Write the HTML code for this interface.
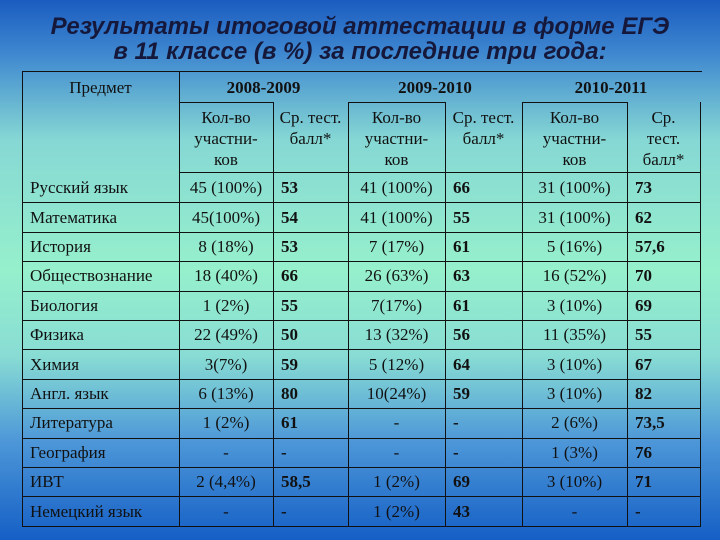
<!DOCTYPE html>
<html><head><meta charset="utf-8">
<style>
body{margin:0;width:720px;height:540px;overflow:hidden;font-family:"Liberation Serif","Noto Serif CJK SC",serif;}
#bg{position:absolute;left:0;top:0;width:720px;height:540px;background:linear-gradient(to bottom,#1a5cc0 0%,#3f88d0 10%,#86d8d4 26%,#96f0cc 50%,#88dcd4 66%,#4c96d8 82%,#155fc6 100%);}
.t{position:absolute;left:0;width:720px;text-align:center;font-family:"Liberation Sans",sans-serif;font-weight:bold;font-style:italic;font-size:24px;line-height:28px;color:#15183a;}
.l{position:absolute;background:#111;}
.c{position:absolute;font-size:17px;color:#111;white-space:nowrap;line-height:21px;}
</style></head><body>
<div id="bg"></div>
<div class="t" style="top:13px">Результаты итоговой аттестации в форме ЕГЭ</div>
<div class="t" style="top:38px">в 11 классе (в %) за последние три года:</div>
<div id="tbl"></div>
<script>
const subjects=["Русский язык","Математика","История","Обществознание","Биология","Физика","Химия","Англ. язык","Литература","География","ИВТ","Немецкий язык"];
const count0809=["45 (100%)","45(100%)","8 (18%)","18 (40%)","1 (2%)","22 (49%)","3(7%)","6 (13%)","1 (2%)","-","2 (4,4%)","-"];
const score0809=["53","54","53","66","55","50","59","80","61","-","58,5","-"];
const count0910=["41 (100%)","41 (100%)","7 (17%)","26 (63%)","7(17%)","13 (32%)","5 (12%)","10(24%)","-","-","1 (2%)","1 (2%)"];
const score0910=["66","55","61","63","61","56","64","59","-","-","69","43"];
const count1011=["31 (100%)","31 (100%)","5 (16%)","16 (52%)","3 (10%)","11 (35%)","3 (10%)","3 (10%)","2 (6%)","1 (3%)","3 (10%)","-"];
const score1011=["73","62","57,6","70","69","55","67","82","73,5","76","71","-"];
const tbl=document.getElementById('tbl');
function line(x,y,w,h,n){const d=document.createElement('div');d.className='l';


d.style.cssText=`left:${x}px;top:${y}px;width:${w}px;height:${h}px`;tbl.appendChild(d);}
function cell(txt,x,w,y,align,bold,n){const d=document.createElement('div');d.className='c';


d.innerHTML=txt;d.style.left=x+'px';d.style.width=w+'px';d.style.top=y+'px';d.style.textAlign=align;if(bold)d.style.fontWeight='bold';tbl.appendChild(d);}
const top0=173,rh=29.4,bot=526;
line(22,71,680,1,'table-top-border');
line(22,71,1,bot-71,'table-left-border');
line(179,71,1,bot-71,'subject-divider');
line(179,102,95,1,'year-underline');line(348,102,98,1,'year-underline');line(522,102,106,1,'year-underline');
[273,348,445,522,627,700].forEach(x=>line(x,102,1,bot-102,'column-divider'));
line(179,172,522,1,'header-bottom-border');
for(let i=1;i<=subjects.length;i++)line(22,Math.round(top0+rh*i),679,1,'row-divider');
cell('Предмет',22,157,77,'center',false,'header-subject');
cell('2008-2009',179,169,77,'center',true,'header-year-2008');
cell('2009-2010',348,174,77,'center',true,'header-year-2009');
cell('2010-2011',522,178,77,'center',true,'header-year-2010');
const cols=[[179,94],[273,75],[348,97],[445,77],[522,105],[627,73]];
const hc='Кол-во<br>участни-<br>ков',hs='Ср. тест.<br>балл*';
cell(hc,cols[0][0],cols[0][1],107,'center',false,'header-count');
cell(hs,cols[1][0],cols[1][1],107,'center',false,'header-score');
cell(hc,cols[2][0],cols[2][1],107,'center',false,'header-count');
cell(hs,cols[3][0],cols[3][1],107,'center',false,'header-score');
cell(hc,cols[4][0],cols[4][1],107,'center',false,'header-count');
cell('Ср.<br>тест.<br>балл*',cols[5][0],cols[5][1],107,'center',false,'header-score');
const data=[count0809,score0809,count0910,score0910,count1011,score1011];
subjects.forEach((s,i)=>{const y=Math.round(top0+rh*i+rh/2-10.5);
cell(s,30,150,y,'left',false,'subject-name');
data.forEach((arr,j)=>{const sc=j%2==1;
cell(arr[i],sc?cols[j][0]+8:cols[j][0],sc?cols[j][1]-8:cols[j][1],y,sc?'left':'center',sc,sc?'avg-score':'participant-count');});});
</script>
</body></html>
